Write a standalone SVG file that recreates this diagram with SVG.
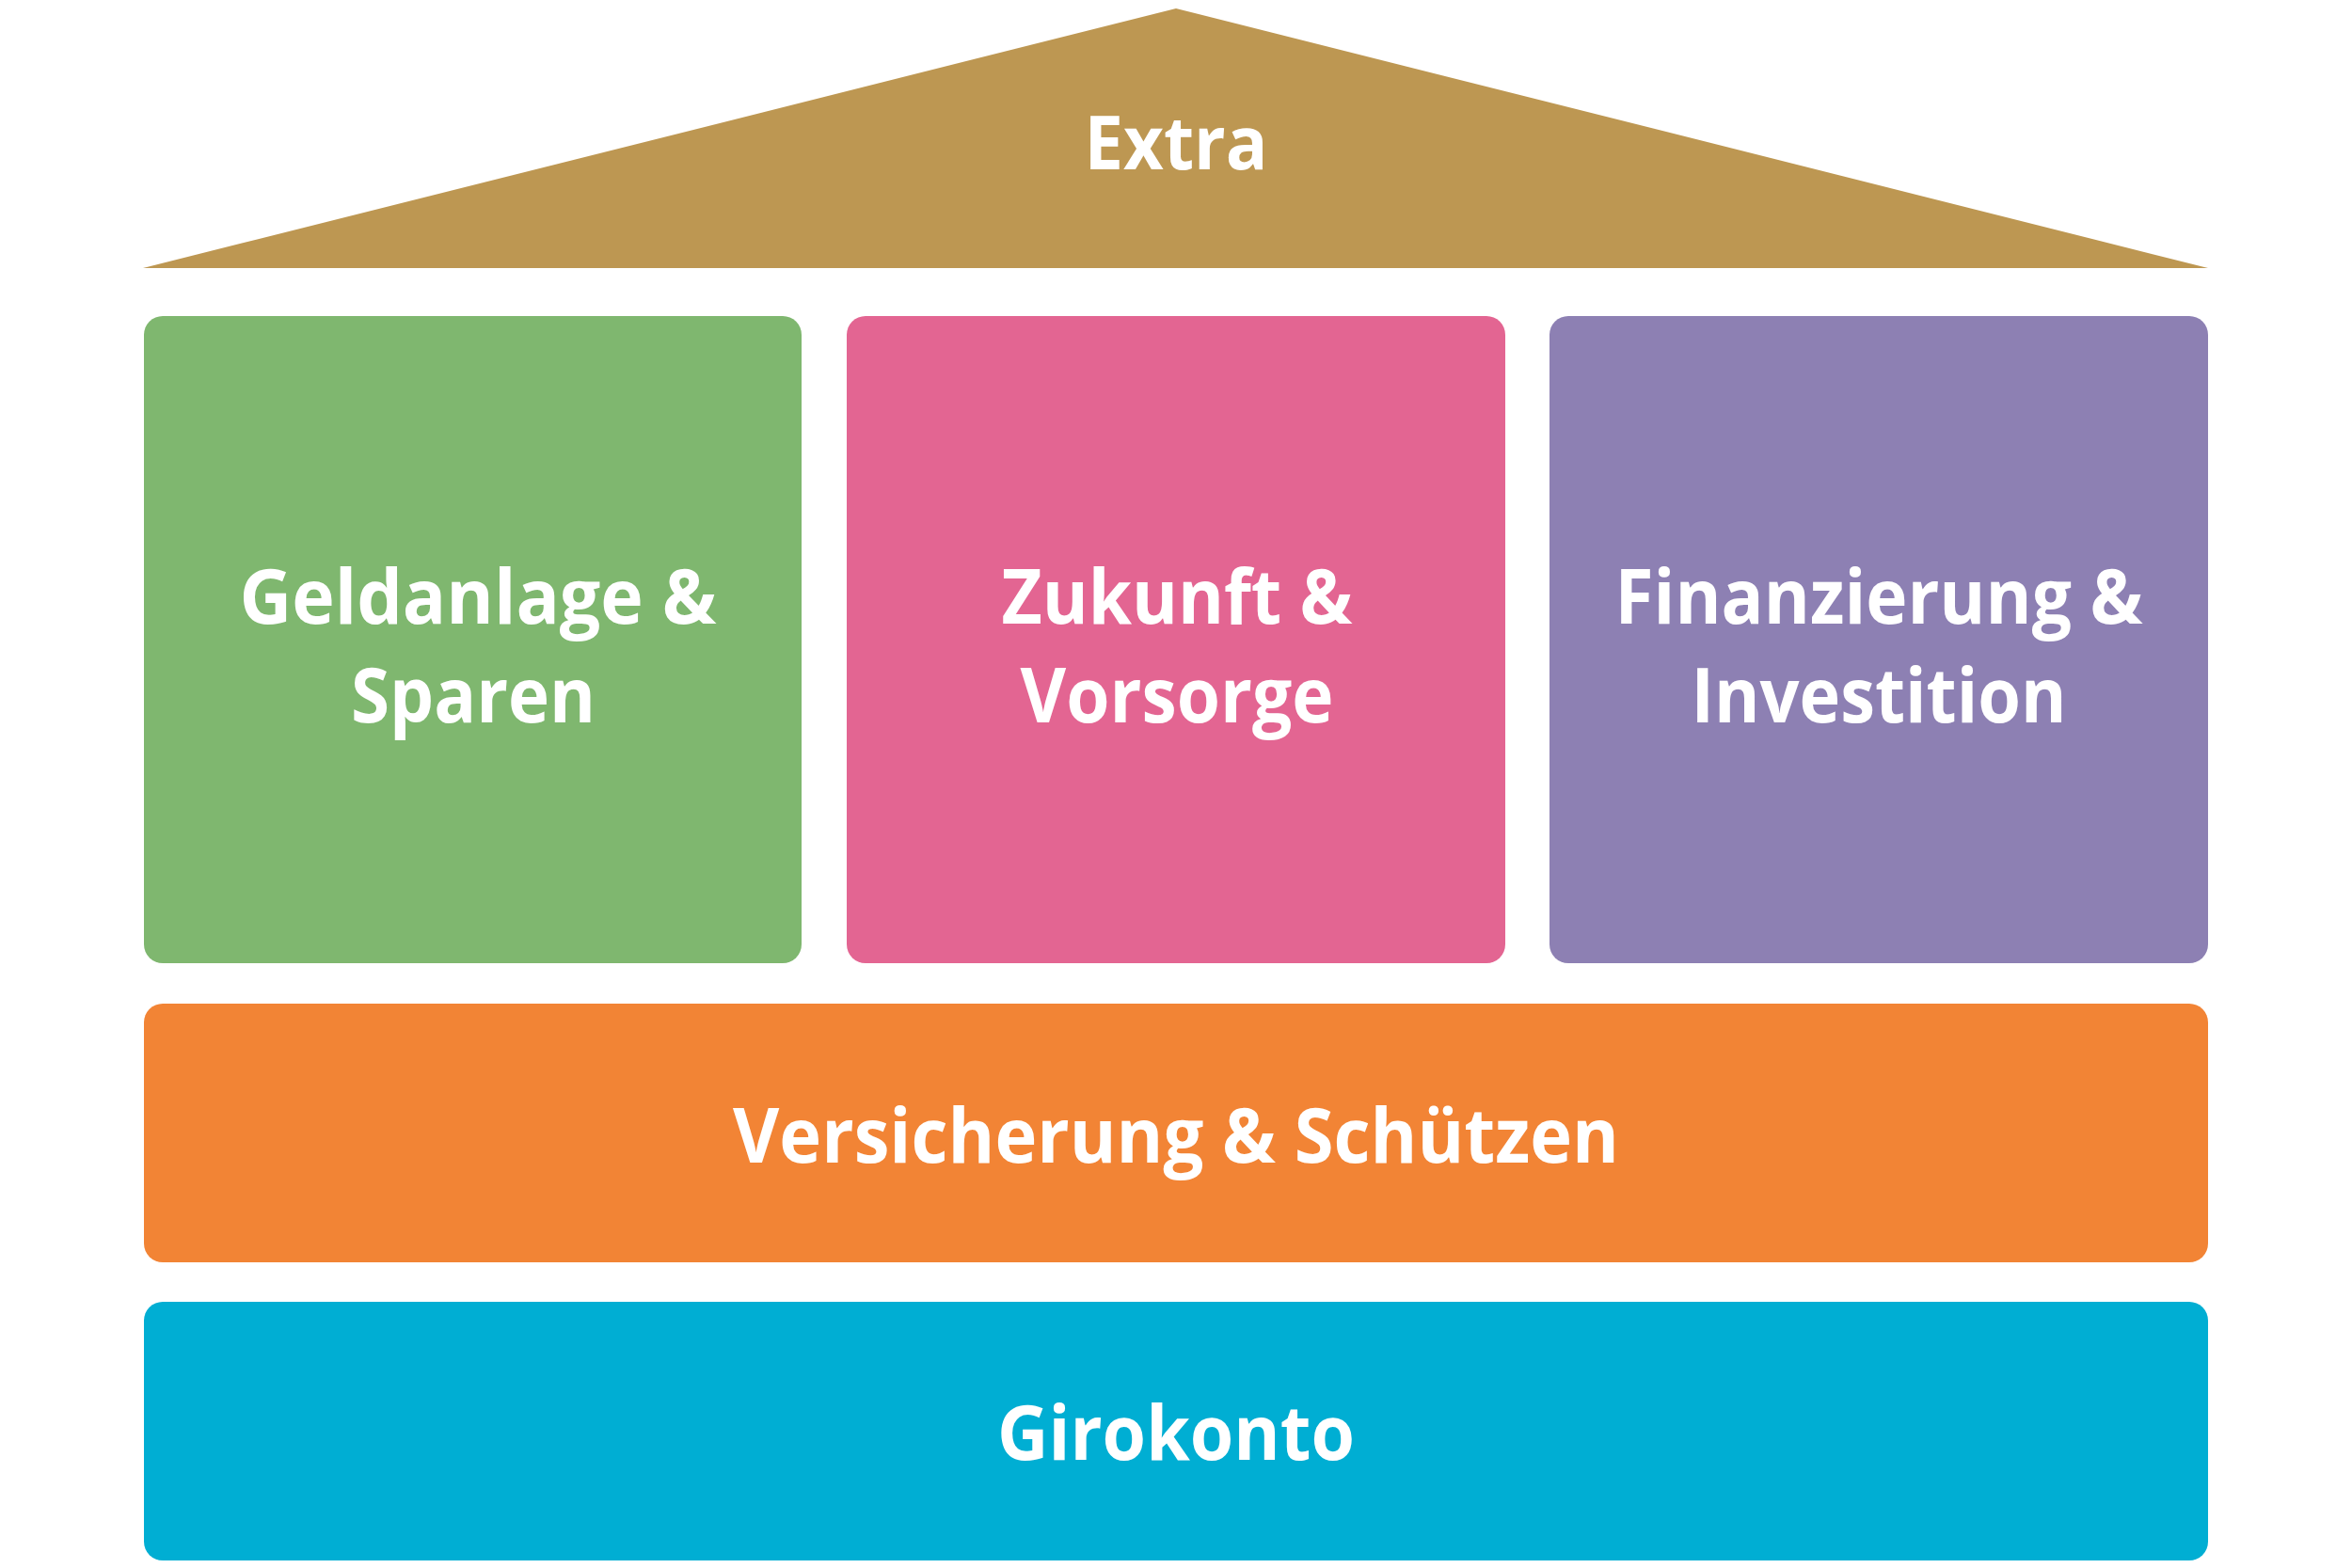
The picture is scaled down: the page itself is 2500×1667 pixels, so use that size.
<svg xmlns="http://www.w3.org/2000/svg" width="2500" height="1667" viewBox="0 0 2500 1667">
  <style>
    .lbl { font-family: "Open Sans", Lato, "Liberation Sans", sans-serif; font-weight: 700; font-size: 80px; fill: #ffffff; text-anchor: middle; font-variant-ligatures: none; font-feature-settings: "liga" 0, "clig" 0; }
  </style>
  <rect x="0" y="0" width="2500" height="1667" fill="#ffffff"/>
  <g id="roof">
    <polygon points="1250,9 2347,285 152,285" fill="#BD9752"/>
    <text class="lbl" x="1250" y="180" style="font-size:78px" textLength="195" lengthAdjust="spacingAndGlyphs">Extra</text>
  </g>
  <g id="geldanlage">
    <rect x="153" y="336" width="699" height="688" rx="20" fill="#7FB76F"/>
    <text class="lbl" x="508" y="663" textLength="507" lengthAdjust="spacingAndGlyphs">Geldanlage &amp;</text>
    <text class="lbl" x="503" y="768" textLength="260" lengthAdjust="spacingAndGlyphs">Sparen</text>
  </g>
  <g id="zukunft">
    <rect x="900" y="336" width="700" height="688" rx="20" fill="#E36592"/>
    <text class="lbl" x="1251" y="663" textLength="373" lengthAdjust="spacingAndGlyphs">Zukunft &amp;</text>
    <text class="lbl" x="1251" y="768" textLength="333" lengthAdjust="spacingAndGlyphs">Vorsorge</text>
  </g>
  <g id="finanzierung">
    <rect x="1647" y="336" width="700" height="688" rx="20" fill="#8D80B3"/>
    <text class="lbl" x="1997" y="663" textLength="561" lengthAdjust="spacingAndGlyphs">Finanzierung &amp;</text>
    <text class="lbl" x="1997" y="768" textLength="399" lengthAdjust="spacingAndGlyphs">Investition</text>
  </g>
  <g id="versicherung">
    <rect x="153" y="1067" width="2194" height="275" rx="20" fill="#F28435"/>
    <text class="lbl" x="1250" y="1236" textLength="942" lengthAdjust="spacingAndGlyphs">Versicherung &amp; Schützen</text>
  </g>
  <g id="girokonto">
    <rect x="153" y="1384" width="2194" height="275" rx="20" fill="#00AED3"/>
    <text class="lbl" x="1250" y="1552" textLength="380" lengthAdjust="spacingAndGlyphs">Girokonto</text>
  </g>
  <g id="connectors"></g>
</svg>
